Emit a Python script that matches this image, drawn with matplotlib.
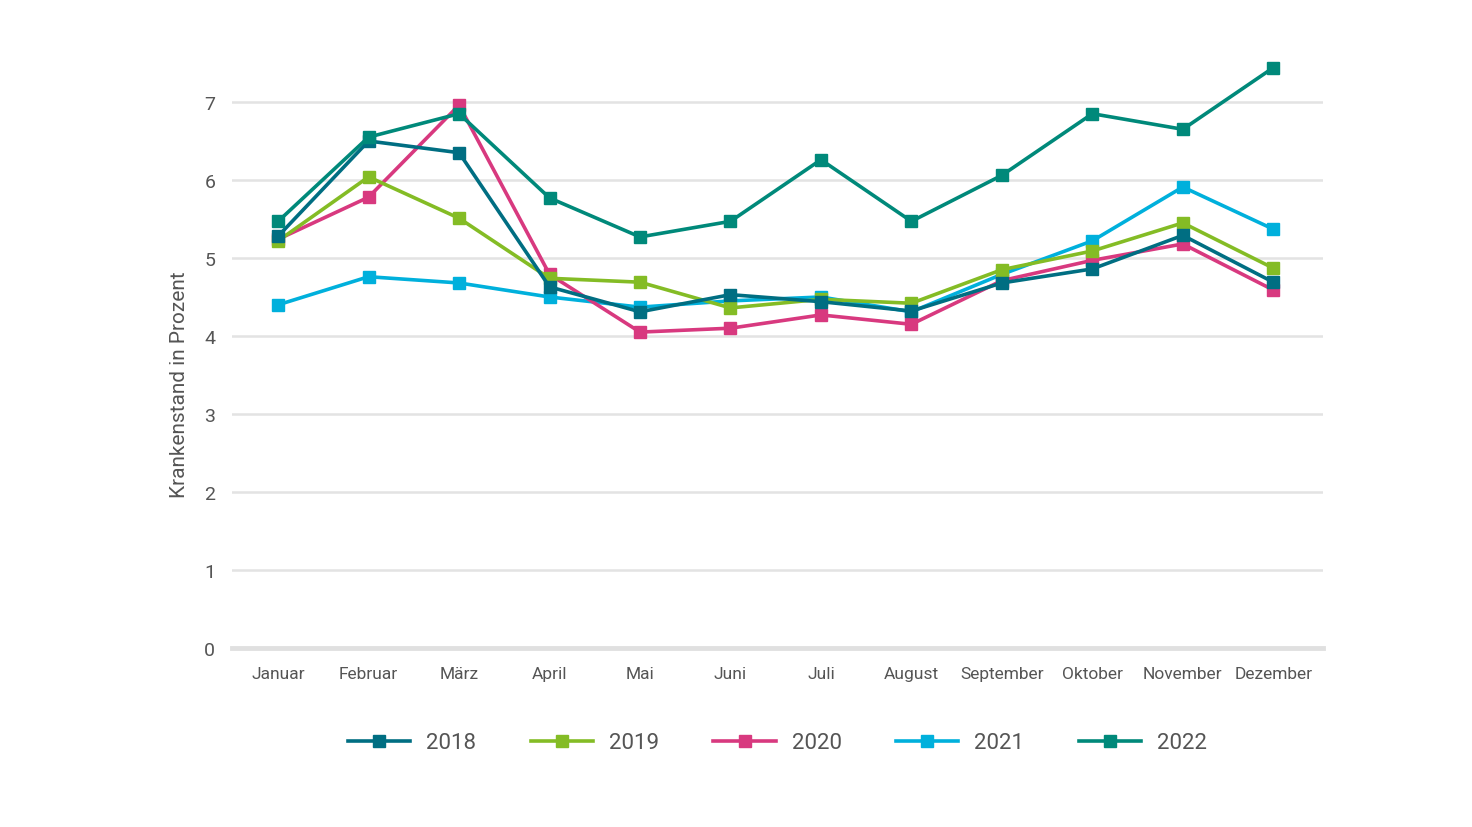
import matplotlib.pyplot as plt

plt.rcParams['font.family'] = ['Roboto', 'DejaVu Sans']

months = ['Januar', 'Februar', 'März', 'April', 'Mai', 'Juni', 'Juli',
          'August', 'September', 'Oktober', 'November', 'Dezember']
years = ['2018', '2019', '2020', '2021', '2022']

v2018 = [5.28, 6.50, 6.35, 4.63, 4.31, 4.53, 4.44, 4.32, 4.68, 4.86, 5.29, 4.69]
v2019 = [5.22, 6.04, 5.51, 4.74, 4.69, 4.36, 4.47, 4.42, 4.85, 5.09, 5.45, 4.87]
v2020 = [5.24, 5.78, 6.96, 4.79, 4.05, 4.10, 4.27, 4.15, 4.71, 4.97, 5.18, 4.59]
v2021 = [4.40, 4.76, 4.68, 4.50, 4.37, 4.45, 4.50, 4.31, 4.79, 5.22, 5.91, 5.37]
v2022 = [5.47, 6.55, 6.85, 5.77, 5.27, 5.47, 6.26, 5.47, 6.06, 6.85, 6.65, 7.44]

series = [v2018, v2019, v2020, v2021, v2022]
colors = ['#006e82', '#84bc25', '#d8397f', '#00b0dc', '#00897a']
zorders = [6, 5, 4, 3, 7]

fig = plt.figure(figsize=(14.72, 8.28), dpi=100)
ax = fig.add_axes([0.1576, 0.2162, 0.7412, 0.7065])

x = list(range(len(months)))
for vals, col, yr, z in zip(series, colors, years, zorders):
    ax.plot(x, vals, color=col, lw=2.6, marker='s', markersize=8.5,
            label=yr, zorder=z, clip_on=False)

ax.set_xlim(-0.51, 11.55)
ax.set_ylim(0, 7.5)
ax.set_yticks(range(0, 8))
ax.set_xticks(x)
ax.set_xticklabels(months)

for yv in range(1, 8):
    ax.axhline(yv, color='#e3e3e3', lw=1.8, zorder=1)
ax.axhline(0, color='#e0e0e0', lw=3.5, zorder=1, clip_on=False)

for s in ax.spines.values():
    s.set_visible(False)
ax.tick_params(axis='both', length=0, colors='#555555')
ax.tick_params(axis='y', labelsize=14, pad=12)
ax.tick_params(axis='x', labelsize=12.5, pad=13)
ax.set_ylabel('Krankenstand in Prozent', fontsize=15, color='#555555')
ax.yaxis.set_label_coords(-0.039, 0.451)

ax.legend(loc='upper center', bbox_to_anchor=(0.5, -0.11), ncol=5, frameon=False,
          fontsize=16, labelcolor='#555555', handlelength=2.8, columnspacing=2.45,
          handletextpad=0.72)

fig.savefig('out.png', dpi=100)
